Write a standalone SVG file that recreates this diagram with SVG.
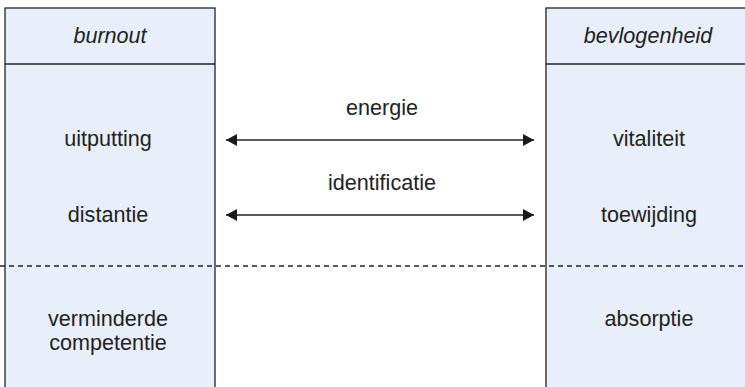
<svg xmlns="http://www.w3.org/2000/svg" width="745" height="387" viewBox="0 0 745 387">
  <style>
    .box { fill: #e8effa; stroke: #222; stroke-width: 1.3; }
    .div { stroke: #222; stroke-width: 1.3; }
    .t { font-family: "Liberation Sans", Arial, sans-serif; font-size: 21.6px; fill: #222; text-anchor: middle; }
    .hd { font-style: italic; }
    .arrow { stroke: #222; stroke-width: 1.6; fill: none; marker-start: url(#ah); marker-end: url(#ah); }
    .dash { stroke: #222; stroke-width: 1.3; stroke-dasharray: 5 4; }
  </style>
  <defs>
    <marker id="ah" markerUnits="userSpaceOnUse" markerWidth="13" markerHeight="13" refX="11" refY="6" orient="auto-start-reverse">
      <path d="M0,0 L11,6 L0,12 z" fill="#1a1a1a"/>
    </marker>
  </defs>
  <rect width="745" height="387" fill="#ffffff"/>

  <g id="burnout">
    <rect class="box" x="5" y="8" width="210" height="400"/>
    <line class="div" x1="5" y1="64" x2="215" y2="64"/>
    <text class="t hd" x="110" y="43">burnout</text>
    <text class="t" x="108" y="146">uitputting</text>
    <text class="t" x="108" y="222">distantie</text>
    <text class="t" x="108" y="326">verminderde</text>
    <text class="t" x="108" y="350">competentie</text>
  </g>

  <g id="bevlogenheid">
    <rect class="box" x="546" y="8" width="206" height="400"/>
    <line class="div" x1="546" y1="64" x2="752" y2="64"/>
    <text class="t hd" x="648" y="43">bevlogenheid</text>
    <text class="t" x="649" y="146">vitaliteit</text>
    <text class="t" x="649" y="222">toewijding</text>
    <text class="t" x="649" y="326">absorptie</text>
  </g>

  <g id="connectors">
    <line class="arrow" x1="226" y1="140" x2="534" y2="140"/>
    <text class="t" x="382" y="115">energie</text>
    <line class="arrow" x1="226" y1="215" x2="534" y2="215"/>
    <text class="t" x="382" y="190">identificatie</text>
    <line class="dash" x1="0" y1="266" x2="745" y2="266"/>
  </g>
</svg>
